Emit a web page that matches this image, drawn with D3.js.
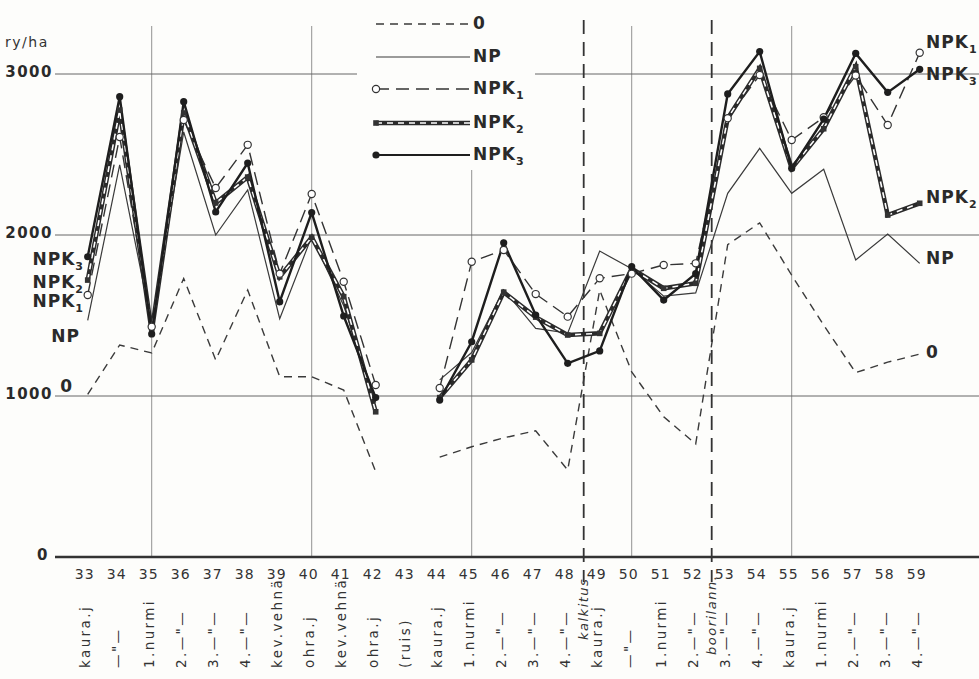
<!DOCTYPE html>
<html>
<head>
<meta charset="utf-8">
<script src="https://cdn.jsdelivr.net/npm/d3@7/dist/d3.min.js"></script>
<style>
  html, body { margin: 0; padding: 0; background: #fdfdfb; }
  svg { display: block; }
  text { font-family: 'DejaVu Sans', sans-serif; fill: #333; }
</style>
</head>
<body>
<div id="chart"></div>
<script>
// chart constants
const WIDTH = 979;
const HEIGHT = 679;

// data
const years = d3.range(33, 60);
const yTicks = [0, 1000, 2000, 3000];
const gridYears = [35, 40, 45, 50, 55];
const eventYears = [48.5, 52.5];
const crops = ['kaura.j', '—"—', '1.nurmi', '2.—"—', '3.—"—', '4.—"—', 'kev.vehnä', 'ohra.j',
  'kev.vehnä', 'ohra.j', '(ruis)', 'kaura.j', '1.nurmi', '2.—"—', '3.—"—', '4.—"—', 'kaura.j',
  '—"—', '1.nurmi', '2.—"—', '3.—"—', '4.—"—', 'kaura.j', '1.nurmi', '2.—"—', '3.—"—', '4.—"—'];
const events = ['kalkitus', 'boorilann.'];

const s0 = [1010, 1317, 1267, 1730, 1224, 1658, 1120, 1120, 1037, 530, null, 620, 685, 740, 784, 540,
  1658, 1150, 871, 702, 1940, 2075, 1750, 1440, 1145, 1210, 1260];
const sNP = [1470, 2435, 1440, 2640, 2000, 2280, 1480, 1990, 1560, 960, null, 1100, 1270, 1660, 1420, 1390,
  1900, 1790, 1620, 1640, 2259, 2538, 2259, 2408, 1845, 2006, 1824];
const sNPK1 = [1627, 2609, 1430, 2714, 2292, 2560, 1760, 2255, 1710, 1068, null, 1050, 1834, 1907, 1633, 1493,
  1731, 1760, 1814, 1824, 2725, 2994, 2590, 2731, 2990, 2683, 3132];
const sNPK2 = [1720, 2776, 1400, 2758, 2199, 2360, 1740, 1986, 1617, 902, null, 990, 1224, 1645, 1490, 1379,
  1389, 1790, 1669, 1700, 2725, 3035, 2414, 2660, 3045, 2124, 2197];
const sNPK3 = [1865, 2859, 1385, 2828, 2143, 2447, 1586, 2139, 1497, 990, null, 975, 1337, 1952, 1503, 1203,
  1280, 1803, 1596, 1760, 2876, 3139, 2414, 2720, 3128, 2886, 3029];

const svg = d3.select('#chart')
  .append('svg')
  .attr('width', WIDTH)
  .attr('height', HEIGHT);

const x = d3.scaleLinear().domain([35, 55]).range([151.7, 791.7]);
const y = d3.scaleLinear().domain([0, 3000]).range([557, 74]);

// horizontal grid (3000 line broken by the legend)
[1000, 2000].forEach(v => {
  svg.append('line')
    .attr('x1', 55).attr('x2', WIDTH)
    .attr('y1', y(v)).attr('y2', y(v))
    .attr('stroke', '#555').attr('stroke-width', 0.9);
});
[[55, 357], [535, WIDTH]].forEach(([a, b]) => {
  svg.append('line')
    .attr('x1', a).attr('x2', b)
    .attr('y1', y(3000)).attr('y2', y(3000))
    .attr('stroke', '#555').attr('stroke-width', 0.9);
});

// vertical grid
gridYears.forEach(yr => {
  svg.append('line')
    .attr('x1', x(yr)).attr('x2', x(yr))
    .attr('y1', yr === 45 ? 170 : 26).attr('y2', y(0))
    .attr('stroke', '#666').attr('stroke-width', 0.7);
});

// event lines
eventYears.forEach(yr => {
  svg.append('line')
    .attr('x1', x(yr)).attr('x2', x(yr))
    .attr('y1', 20).attr('y2', 582)
    .attr('stroke', '#333').attr('stroke-width', 1.8)
    .attr('stroke-dasharray', '14,8');
});

// x axis base line
svg.append('line')
  .attr('x1', 55).attr('x2', WIDTH)
  .attr('y1', y(0)).attr('y2', y(0))
  .attr('stroke', '#333').attr('stroke-width', 2.5);

// y labels
svg.selectAll('.ylab')
  .data(yTicks)
  .enter()
  .append('text')
  .attr('class', 'ylab')
  .attr('x', d => d === 0 ? 49 : 53)
  .attr('y', d => y(d))
  .attr('dy', '0.2em')
  .attr('text-anchor', 'end')
  .attr('font-size', '15px')
  .attr('font-weight', '600')
  .attr('letter-spacing', '1.5px')
  .style('fill', '#2a2a2a')
  .text(d => d);

svg.append('text')
  .attr('x', 5).attr('y', 47)
  .attr('font-size', '14px')
  .attr('letter-spacing', '1.5px')
  .text('ry/ha');

// year labels
svg.selectAll('.xlab')
  .data(years)
  .enter()
  .append('text')
  .attr('class', 'xlab')
  .attr('x', d => x(d) - 3)
  .attr('y', 579)
  .attr('text-anchor', 'middle')
  .attr('font-size', '14px')
  .attr('letter-spacing', '1px')
  .text(d => d);

// crop labels, rotated
svg.selectAll('.crop')
  .data(crops)
  .enter()
  .append('text')
  .attr('class', 'crop')
  .attr('transform', (d, i) => `translate(${x(years[i]) - 2}, 668) rotate(-90)`)
  .attr('dy', '0.35em')
  .attr('font-size', '13.5px')
  .attr('letter-spacing', '2.4px')
  .text(d => d);

svg.selectAll('.event')
  .data(events)
  .enter()
  .append('text')
  .attr('class', 'event')
  .attr('transform', (d, i) => `translate(${x(eventYears[i])}, ${i === 0 ? 640 : 655}) rotate(-90)`)
  .attr('dy', '0.35em')
  .attr('font-size', '13px')
  .attr('font-style', 'italic')
  .attr('letter-spacing', '1.5px')
  .text(d => d);

// series
const toPts = arr => arr.map((v, i) => ({ yr: years[i], v }));
const line = d3.line()
  .defined(d => d.v != null)
  .x(d => x(d.yr))
  .y(d => y(d.v));

function drawPlain(arr, color, width, dash) {
  svg.append('path')
    .datum(toPts(arr))
    .attr('d', line)
    .attr('fill', 'none')
    .attr('stroke', color)
    .attr('stroke-width', width)
    .attr('stroke-dasharray', dash);
}

drawPlain(s0, '#3a3a3a', 1.4, '8,6');
drawPlain(sNP, '#3a3a3a', 1.2, null);
drawPlain(sNPK1, '#333', 1.4, '13,7');

// NPK2: dark band with white dashes
drawPlain(sNPK2, '#2a2a2a', 4.5, null);
drawPlain(sNPK2, '#fff', 1.6, '6,5');

drawPlain(sNPK3, '#1e1e1e', 2.4, null);

// markers
const defined = arr => toPts(arr).filter(d => d.v != null);

svg.selectAll('.m2')
  .data(defined(sNPK2))
  .enter()
  .append('rect')
  .attr('x', d => x(d.yr) - 2.8)
  .attr('y', d => y(d.v) - 2.8)
  .attr('width', 5.6).attr('height', 5.6)
  .attr('fill', '#333');

svg.selectAll('.m1')
  .data(defined(sNPK1))
  .enter()
  .append('circle')
  .attr('cx', d => x(d.yr))
  .attr('cy', d => y(d.v))
  .attr('r', 3.6)
  .attr('fill', '#fff')
  .attr('stroke', '#333')
  .attr('stroke-width', 1.2);

svg.selectAll('.m3')
  .data(defined(sNPK3))
  .enter()
  .append('circle')
  .attr('cx', d => x(d.yr))
  .attr('cy', d => y(d.v))
  .attr('r', 3.6)
  .attr('fill', '#1e1e1e');

// series labels
function seriesLabel(px, py, name, sub, anchor) {
  const t = svg.append('text')
    .attr('x', px).attr('y', py)
    .attr('dy', '0.35em')
    .attr('text-anchor', anchor)
    .attr('font-size', '17px')
    .attr('font-weight', 'bold')
    .attr('letter-spacing', '1px')
    .style('fill', '#2a2a2a');
  t.append('tspan').text(name);
  if (sub) {
    t.append('tspan')
      .attr('dy', '5')
      .attr('font-size', '11px')
      .text(sub);
  }
}

// left side
seriesLabel(84, y(sNPK3[0]) + 2, 'NPK', '3', 'end');
seriesLabel(84, y(sNPK2[0]) + 2, 'NPK', '2', 'end');
seriesLabel(84, y(sNPK1[0]) + 6, 'NPK', '1', 'end');
seriesLabel(80, 336, 'NP', null, 'end');
seriesLabel(73, 386, '0', null, 'end');

// right side
seriesLabel(926, 42, 'NPK', '1', 'start');
seriesLabel(926, 74, 'NPK', '3', 'start');
seriesLabel(926, 197, 'NPK', '2', 'start');
seriesLabel(926, 258, 'NP', null, 'start');
seriesLabel(926, 352, '0', null, 'start');

// legend
const legendRows = [
  { name: '0', sub: null, y: 24 },
  { name: 'NP', sub: null, y: 57 },
  { name: 'NPK', sub: '1', y: 89 },
  { name: 'NPK', sub: '2', y: 123 },
  { name: 'NPK', sub: '3', y: 155 }
];
const lx1 = 376, lx2 = 470;

function legendLine(yy, color, width, dash) {
  svg.append('line')
    .attr('x1', lx1).attr('x2', lx2)
    .attr('y1', yy).attr('y2', yy)
    .attr('stroke', color)
    .attr('stroke-width', width)
    .attr('stroke-dasharray', dash);
}

legendLine(legendRows[0].y, '#3a3a3a', 1.4, '8,6');
legendLine(legendRows[1].y, '#3a3a3a', 1.2, null);
legendLine(legendRows[2].y, '#333', 1.4, '13,7');
legendLine(legendRows[3].y, '#2a2a2a', 4.5, null);
legendLine(legendRows[3].y, '#fff', 1.6, '6,5');
legendLine(legendRows[4].y, '#1e1e1e', 2.2, null);

svg.append('circle')
  .attr('cx', lx1).attr('cy', legendRows[2].y)
  .attr('r', 3.6).attr('fill', '#fff')
  .attr('stroke', '#333').attr('stroke-width', 1.2);
svg.append('rect')
  .attr('x', lx1 - 2.8).attr('y', legendRows[3].y - 2.8)
  .attr('width', 5.6).attr('height', 5.6)
  .attr('fill', '#333');
svg.append('circle')
  .attr('cx', lx1).attr('cy', legendRows[4].y)
  .attr('r', 3.6).attr('fill', '#1e1e1e');

legendRows.forEach(r => seriesLabel(lx2 + 3, r.y - 1, r.name, r.sub, 'start'));
</script>
</body>
</html>
